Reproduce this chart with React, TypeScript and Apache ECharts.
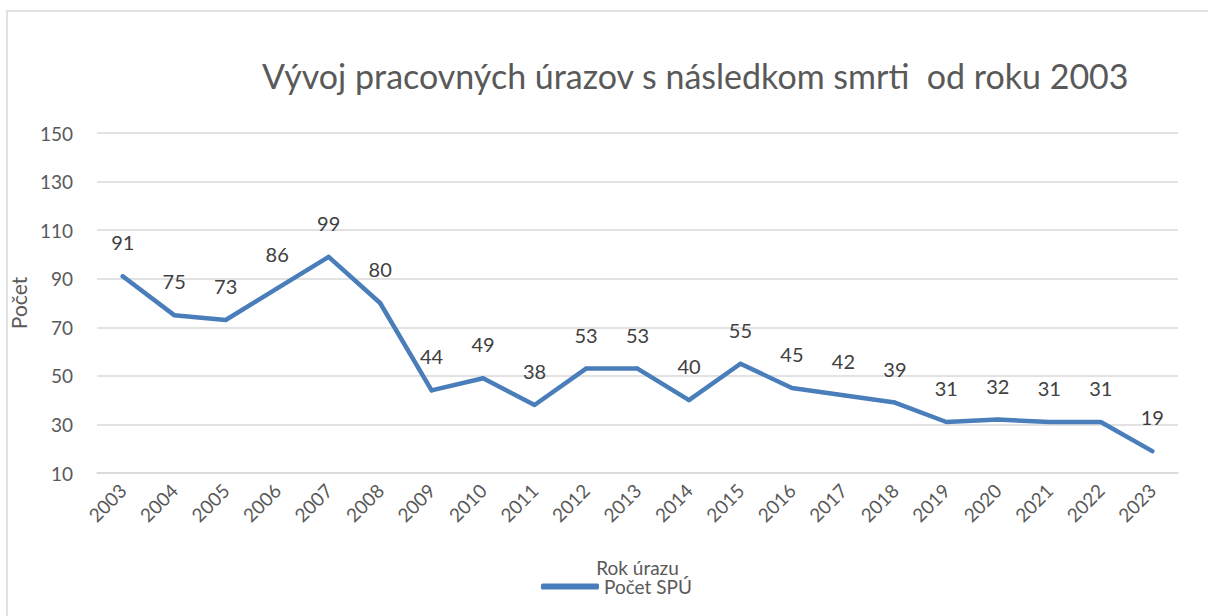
import React, { useEffect, useRef } from "react";
import * as echarts from "echarts";

const years = ["2003","2004","2005","2006","2007","2008","2009","2010","2011","2012","2013","2014","2015","2016","2017","2018","2019","2020","2021","2022","2023"];
const deaths = [91,75,73,86,99,80,44,49,38,53,53,40,55,45,42,39,31,32,31,31,19];
const titleText = "Vývoj pracovných úrazov s následkom smrti  od roku 2003";
const seriesName = "Počet SPÚ";
const yName = "Počet";
const xName = "Rok úrazu";

const FONT = "Lato, 'Open Sans', sans-serif";

export default function App() {
  const ref = useRef<HTMLDivElement>(null);
  useEffect(() => {
    document.body.style.margin = "0";
    const chart = echarts.init(ref.current!, null, { renderer: "svg" });
    chart.setOption({
      animation: false,
      backgroundColor: "#ffffff",
      textStyle: { fontFamily: FONT },
      graphic: [
        {
          type: "rect",
          shape: { x: 7, y: 11, width: 1230, height: 640 },
          style: { fill: "none", stroke: "#d9d9d9", lineWidth: 1.5 },
          silent: true,
        },
      ],
      title: {
        text: titleText,
        left: 257,
        top: 53,
        textStyle: { fontSize: 34, fontWeight: "normal", color: "#595959", fontFamily: FONT },
      },
      legend: {
        data: [{ name: seriesName, icon: "roundRect", itemStyle: { color: "#4a7ebb", opacity: 1 } }],
        left: 536,
        top: 572,
        itemWidth: 58,
        itemHeight: 6,
        itemGap: 4,
        textStyle: { fontSize: 19, color: "#595959", fontFamily: FONT },
      },
      grid: { left: 97, right: 30, top: 133, bottom: 143 },
      xAxis: {
        type: "category",
        data: years,
        boundaryGap: true,
        name: xName,
        nameLocation: "middle",
        nameGap: 85,
        nameTextStyle: { fontSize: 19, color: "#595959", fontFamily: FONT },
        axisLine: { show: true, lineStyle: { color: "#d9d9d9", width: 1.5 } },
        axisTick: { show: false },
        axisLabel: { rotate: 45, margin: 14, fontSize: 19, color: "#595959", fontFamily: FONT },
      },
      yAxis: {
        type: "value",
        min: 10,
        max: 150,
        interval: 20,
        name: yName,
        nameLocation: "middle",
        nameGap: 60,
        nameTextStyle: { fontSize: 21, color: "#595959", fontFamily: FONT },
        axisLine: { show: false },
        axisTick: { show: false },
        axisLabel: { margin: 24, fontSize: 19, color: "#595959", fontFamily: FONT },
        splitLine: { lineStyle: { color: "#d9d9d9", width: 1.5 } },
      },
      series: [
        {
          name: seriesName,
          type: "line",
          data: deaths,
          symbol: "circle",
          symbolSize: 4,
          showSymbol: true,
          lineStyle: { color: "#4a7ebb", width: 4.5, cap: "round", join: "round" },
          itemStyle: { color: "#4a7ebb" },
          label: {
            show: true,
            position: "top",
            distance: 22,
            fontSize: 20,
            color: "#404040",
            fontFamily: FONT,
          },
        },
      ],
    });
    return () => chart.dispose();
  }, []);
  return <div ref={ref} style={{ width: 1208, height: 616 }} />;
}
